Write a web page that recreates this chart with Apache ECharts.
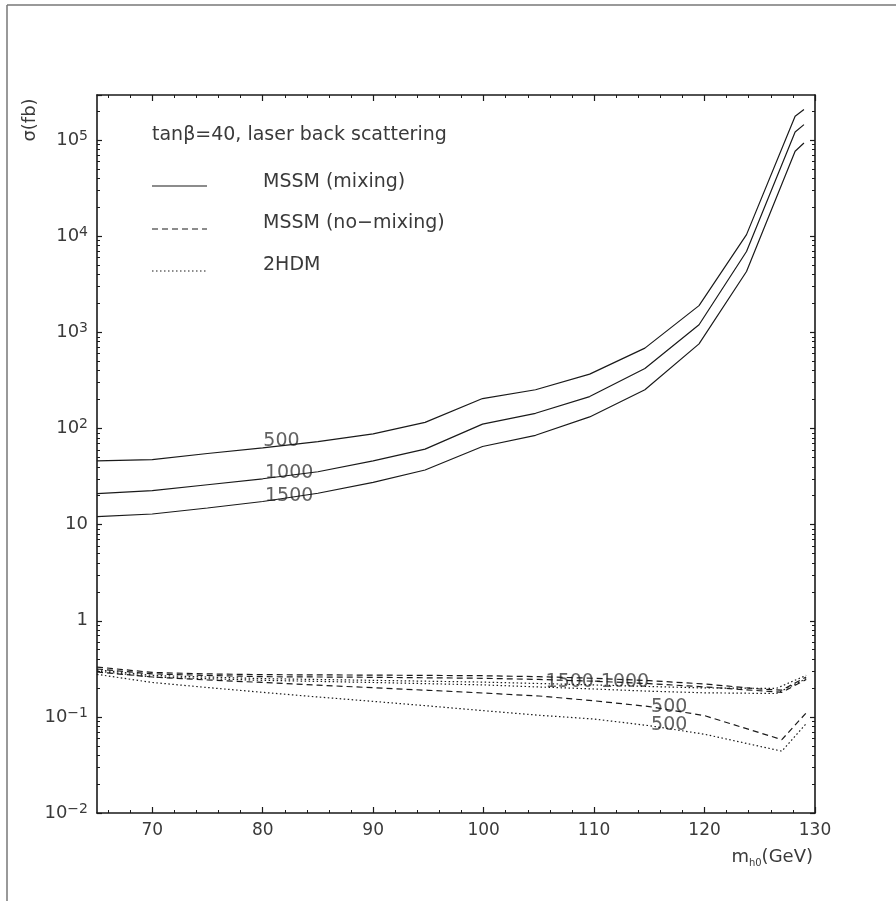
<!DOCTYPE html>
<html><head><meta charset="utf-8">
<script src="https://cdn.jsdelivr.net/npm/echarts@6/dist/echarts.min.js"></script>
<style>html,body{margin:0;padding:0;background:#fff}#c{width:896px;height:901px}</style>
</head><body><div id="c"></div>
<script>
// ---- data ----
const xTicks = [70, 80, 90, 100, 110, 120, 130];
const xMinorTicks = [66, 68, 72, 74, 76, 78, 82, 84, 86, 88, 92, 94, 96, 98, 102, 104, 106, 108, 112, 114, 116, 118, 122, 124, 126, 128];
const yDecades = [-2, -1, 0, 1, 2, 3, 4, 5];
const Y_MIN = 0.01, Y_MAX = 2.95e5;

// MSSM (mixing), solid
const mixX    = [65, 70, 75, 80, 85, 90, 94.7, 99.9, 104.7, 109.6, 114.6, 119.5, 123.8, 128.2, 129];
const mix500  = [46, 47.5, 55, 63, 73, 88, 116, 205, 253, 368, 686, 1900, 10400, 177000, 208000];
const mix1000 = [21, 22.6, 26, 30, 35.5, 46, 61, 111, 144, 215, 421, 1200, 6950, 121600, 145000];
const mix1500 = [12.1, 12.9, 14.9, 17.4, 21.2, 27.5, 37, 65, 85, 132, 253, 760, 4300, 76700, 93500];

// MSSM (no-mixing), dashed
const nmX     = [65, 70, 75, 80, 90, 100, 105, 110, 115, 120, 125, 127, 129.2];
const nm1500  = [0.33, 0.29, 0.28, 0.275, 0.272, 0.268, 0.262, 0.252, 0.238, 0.22, 0.195, 0.19, 0.26];
const nm1000  = [0.315, 0.28, 0.27, 0.262, 0.258, 0.252, 0.245, 0.235, 0.222, 0.205, 0.187, 0.18, 0.245];
const nm500X  = [65, 70, 75, 80, 85, 90, 95, 100, 105, 110, 115, 120, 127, 129.2];
const nm500   = [0.293, 0.26, 0.242, 0.228, 0.214, 0.201, 0.189, 0.177, 0.165, 0.147, 0.128, 0.103, 0.058, 0.11];

// 2HDM, dotted
const hdX     = [65, 70, 80, 90, 100, 110, 115, 120, 126.5, 129.2];
const hd1500  = [0.31, 0.27, 0.25, 0.24, 0.23, 0.215, 0.207, 0.2, 0.198, 0.27];
const hd1000  = [0.30, 0.26, 0.24, 0.228, 0.215, 0.195, 0.185, 0.178, 0.175, 0.25];
const hd500X  = [65, 70, 75, 80, 85, 90, 95, 100, 105, 110, 115, 120, 127, 129.2];
const hd500   = [0.277, 0.228, 0.202, 0.18, 0.161, 0.145, 0.13, 0.116, 0.104, 0.095, 0.081, 0.066, 0.044, 0.085];

// curve labels [x, y, text]
const labelsUpper = [[81.7, 74.6, '500'], [82.4, 34.8, '1000'], [82.4, 19.6, '1500']];
const labelsLower = [[110.3, 0.232, '1500-1000'], [116.8, 0.1277, '500'], [116.8, 0.082, '500']];

// ---- chart ----
const FONT = 'DejaVu Sans, Verdana, sans-serif';
const TXT = '#3a3a3a';
const INK = '#1a1a1a';
const zip = (xs, ys) => xs.map((x, i) => [x, ys[i]]);

const yMinorLogs = [];
yDecades.forEach(k => { for (let m = 2; m <= 9; m++) { const v = Math.log10(m) + k; if (v < Math.log10(Y_MAX)) yMinorLogs.push(v); } });

function lineSeries(name, xs, ys, type) {
  return {
    name, type: 'line', xAxisIndex: 0, yAxisIndex: 0, data: zip(xs, ys),
    symbol: 'none', smooth: false, silent: true,
    lineStyle: { color: INK, width: 1.2, type: type }
  };
}
function labelSeries(arr) {
  return {
    type: 'scatter', xAxisIndex: 0, yAxisIndex: 0, data: arr, symbolSize: 0.1,
    itemStyle: { color: 'transparent' }, silent: true,
    label: { show: true, position: 'inside', formatter: p => p.data[2], fontFamily: FONT, fontSize: 19, color: TXT }
  };
}

const DASH = [6, 4], DOT = [1.5, 2.5];
const valueAxisBase = { type: 'value', min: 65, max: 130, splitLine: { show: false } };
const logMax = Math.log10(Y_MAX);

const chart = echarts.init(document.getElementById('c'), null, { renderer: 'canvas' });
chart.setOption({
  animation: false,
  backgroundColor: '#fff',
  grid: { left: 97, right: 81, top: 95, bottom: 88, containLabel: false },
  xAxis: [
    Object.assign({}, valueAxisBase, {
      position: 'bottom',
      axisLine: { show: true, onZero: false, lineStyle: { color: INK, width: 1.6 } },
      axisTick: { show: true, inside: true, length: 6, customValues: xTicks, lineStyle: { color: INK, width: 1.2 } },
      axisLabel: { show: true, customValues: xTicks, margin: 9, fontFamily: FONT, fontSize: 17, color: TXT }
    }),
    Object.assign({}, valueAxisBase, {
      position: 'bottom', axisLine: { show: false, onZero: false },
      axisTick: { show: true, inside: true, length: 3, customValues: xMinorTicks, lineStyle: { color: INK, width: 1 } },
      axisLabel: { show: false }
    }),
    Object.assign({}, valueAxisBase, {
      position: 'top',
      axisLine: { show: true, onZero: false, lineStyle: { color: INK, width: 1.6 } },
      axisTick: { show: true, inside: true, length: 6, customValues: xTicks, lineStyle: { color: INK, width: 1.2 } },
      axisLabel: { show: false }
    }),
    Object.assign({}, valueAxisBase, {
      position: 'top', axisLine: { show: false, onZero: false },
      axisTick: { show: true, inside: true, length: 3, customValues: xMinorTicks, lineStyle: { color: INK, width: 1 } },
      axisLabel: { show: false }
    })
  ],
  yAxis: [
    {
      type: 'log', logBase: 10, min: Y_MIN, max: Y_MAX, position: 'left',
      splitLine: { show: false },
      axisLine: { show: true, onZero: false, lineStyle: { color: INK, width: 1.6 } },
      axisTick: { show: true, inside: true, length: 5, lineStyle: { color: INK, width: 1.2 } },
      axisLabel: {
        show: true, margin: 9, fontFamily: FONT, fontSize: 18, color: TXT,
        formatter: v => {
          const l = Math.log10(v), k = Math.round(l);
          if (Math.abs(l - k) > 1e-6) return '';
          if (k === 0) return '{b|1}';
          if (k === 1) return '{b|10}';
          return '{b|10}{s|' + (k < 0 ? '\u2212' + (-k) : k) + '}';
        },
        rich: {
          b: { fontFamily: FONT, fontSize: 18, color: TXT, lineHeight: 22 },
          s: { fontFamily: FONT, fontSize: 14, color: TXT, verticalAlign: 'top', lineHeight: 14 }
        }
      }
    },
    {
      type: 'value', min: -2, max: logMax, position: 'left', splitLine: { show: false },
      axisLine: { show: false, onZero: false },
      axisTick: { show: true, inside: true, length: 3, customValues: yMinorLogs, lineStyle: { color: INK, width: 1 } },
      axisLabel: { show: false }
    },
    {
      type: 'value', min: -2, max: logMax, position: 'right', splitLine: { show: false },
      axisLine: { show: true, onZero: false, lineStyle: { color: INK, width: 1.6 } },
      axisTick: { show: true, inside: true, length: 5, customValues: yDecades, lineStyle: { color: INK, width: 1.2 } },
      axisLabel: { show: false }
    },
    {
      type: 'value', min: -2, max: logMax, position: 'right', splitLine: { show: false },
      axisLine: { show: false, onZero: false },
      axisTick: { show: true, inside: true, length: 3, customValues: yMinorLogs, lineStyle: { color: INK, width: 1 } },
      axisLabel: { show: false }
    }
  ],
  series: [
    lineSeries('mix500', mixX, mix500, 'solid'),
    lineSeries('mix1000', mixX, mix1000, 'solid'),
    lineSeries('mix1500', mixX, mix1500, 'solid'),
    lineSeries('nm1500', nmX, nm1500, DASH),
    lineSeries('nm1000', nmX, nm1000, DASH),
    lineSeries('nm500', nm500X, nm500, DASH),
    lineSeries('hd1500', hdX, hd1500, DOT),
    lineSeries('hd1000', hdX, hd1000, DOT),
    lineSeries('hd500', hd500X, hd500, DOT),
    labelSeries(labelsUpper),
    labelSeries(labelsLower)
  ],
  graphic: [
    // outer frame (left and top edges)
    { type: 'line', shape: { x1: 7, y1: 5, x2: 7, y2: 901 }, style: { stroke: '#777', lineWidth: 1.5 }, silent: true },
    { type: 'line', shape: { x1: 7, y1: 5, x2: 896, y2: 5 }, style: { stroke: '#777', lineWidth: 1.5 }, silent: true },
    // axis titles
    { type: 'text', x: 30, y: 120, rotation: Math.PI / 2,
      style: { text: '\u03c3(fb)', fontFamily: FONT, fontSize: 18, fill: TXT, align: 'center', verticalAlign: 'middle' } },
    { type: 'text', x: 813, y: 857,
      style: { text: '{m|m}{s|h0}{m|(GeV)}', fontFamily: FONT, fontSize: 18, fill: TXT, align: 'right', verticalAlign: 'middle',
        rich: { m: { fontFamily: FONT, fontSize: 18, fill: TXT, lineHeight: 22 },
                s: { fontFamily: FONT, fontSize: 10, fill: TXT, verticalAlign: 'bottom', lineHeight: 14 } } } },
    // legend
    { type: 'text', x: 152, y: 135,
      style: { text: 'tan\u03b2=40, laser back scattering', fontFamily: FONT, fontSize: 19, fill: TXT, verticalAlign: 'middle' } },
    { type: 'line', shape: { x1: 152, y1: 186, x2: 207, y2: 186 }, style: { stroke: INK, lineWidth: 1.2 } },
    { type: 'text', x: 263, y: 182, style: { text: 'MSSM (mixing)', fontFamily: FONT, fontSize: 19, fill: TXT, verticalAlign: 'middle' } },
    { type: 'line', shape: { x1: 152, y1: 229, x2: 207, y2: 229 }, style: { stroke: INK, lineWidth: 1.2, lineDash: DASH } },
    { type: 'text', x: 263, y: 223, style: { text: 'MSSM (no\u2212mixing)', fontFamily: FONT, fontSize: 19, fill: TXT, verticalAlign: 'middle' } },
    { type: 'line', shape: { x1: 152, y1: 271, x2: 207, y2: 271 }, style: { stroke: INK, lineWidth: 1.2, lineDash: DOT } },
    { type: 'text', x: 263, y: 265, style: { text: '2HDM', fontFamily: FONT, fontSize: 19, fill: TXT, verticalAlign: 'middle' } }
  ]
});
</script>
</body></html>
